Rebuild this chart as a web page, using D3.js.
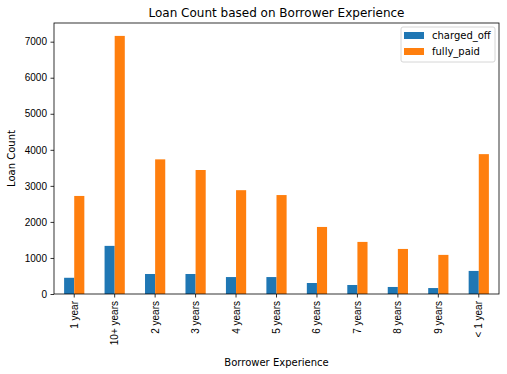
<!DOCTYPE html>
<html>
<head>
<meta charset="utf-8">
<script src="https://cdnjs.cloudflare.com/ajax/libs/d3/7.8.5/d3.min.js"></script>
<style>
  body { margin: 0; background: #fff; }
  svg { display: block; font-family: "DejaVu Sans", sans-serif; }
</style>
</head>
<body>
<div id="chart"></div>
<script>
// values
var categories = ['1 year', '10+ years', '2 years', '3 years', '4 years', '5 years',
                  '6 years', '7 years', '8 years', '9 years', '< 1 year'];
var chargedOff = [450, 1335, 555, 555, 470, 470, 305, 250, 195, 165, 640];
var fullyPaid = [2720, 7160, 3735, 3440, 2880, 2745, 1860, 1445, 1250, 1085, 3880];
var yTicks = [0, 1000, 2000, 3000, 4000, 5000, 6000, 7000];
var seriesNames = ['charged_off', 'fully_paid'];
var seriesColors = ['#1f77b4', '#ff7f0e'];

var width = 507, height = 374;
var margin = { top: 23, right: 8, bottom: 80, left: 54 };
var innerW = width - margin.left - margin.right;
var innerH = height - margin.top - margin.bottom;

var svg = d3.select('#chart').append('svg')
    .attr('width', width)
    .attr('height', height);

var g = svg.append('g')
    .attr('transform', 'translate(' + margin.left + ',' + margin.top + ')');

var yMax = d3.max(fullyPaid.concat(chargedOff)) * 1.05;

var x = d3.scaleBand()
    .domain(categories)
    .range([0, innerW])
    .paddingInner(0.5)
    .paddingOuter(0.25);

var inner = d3.scaleBand()
    .domain(seriesNames)
    .range([0, x.bandwidth()]);

var y = d3.scaleLinear()
    .domain([0, yMax])
    .range([innerH, 0]);

var rows = categories.map(function (c, i) {
    return { cat: c, values: [chargedOff[i], fullyPaid[i]] };
});

// bars
var groups = g.selectAll('g.cat')
    .data(rows)
    .enter().append('g')
    .attr('class', 'cat')
    .attr('transform', function (d) { return 'translate(' + x(d.cat) + ',0)'; });

groups.selectAll('rect')
    .data(function (d) {
        return d.values.map(function (v, k) { return { name: seriesNames[k], value: v, k: k }; });
    })
    .enter().append('rect')
    .attr('x', function (d) { return inner(d.name); })
    .attr('y', function (d) { return y(d.value); })
    .attr('width', inner.bandwidth())
    .attr('height', function (d) { return innerH - y(d.value); })
    .attr('fill', function (d) { return seriesColors[d.k]; });

// axes
var xAxis = g.append('g')
    .attr('transform', 'translate(0,' + innerH + ')')
    .call(d3.axisBottom(x).tickSizeOuter(0).tickSize(3.5).tickPadding(3.5));

xAxis.selectAll('text')
    .attr('font-size', 10)
    .attr('fill', '#000')
    .attr('text-anchor', 'end')
    .attr('transform', 'rotate(-90)')
    .attr('x', -7)
    .attr('y', 0)
    .attr('dy', '0.35em');

var yAxis = g.append('g')
    .call(d3.axisLeft(y).tickValues(yTicks).tickFormat(d3.format('d'))
        .tickSizeOuter(0).tickSize(3.5).tickPadding(3.5));

yAxis.selectAll('text').attr('font-size', 10).attr('fill', '#000');

g.selectAll('.domain').remove();
g.selectAll('.tick line').attr('stroke', '#000').attr('stroke-width', 0.8);

// frame
g.append('rect')
    .attr('x', 0).attr('y', 0)
    .attr('width', innerW).attr('height', innerH)
    .attr('fill', 'none')
    .attr('stroke', '#000')
    .attr('stroke-width', 0.8);

// title and axis labels
svg.append('text')
    .attr('x', margin.left + innerW / 2)
    .attr('y', 17)
    .attr('text-anchor', 'middle')
    .attr('font-size', 12)
    .text('Loan Count based on Borrower Experience');

svg.append('text')
    .attr('x', margin.left + innerW / 2)
    .attr('y', 366)
    .attr('text-anchor', 'middle')
    .attr('font-size', 10)
    .text('Borrower Experience');

svg.append('text')
    .attr('transform', 'translate(15,' + (margin.top + innerH / 2) + ') rotate(-90)')
    .attr('text-anchor', 'middle')
    .attr('font-size', 10)
    .text('Loan Count');

// legend
var legend = g.append('g')
    .attr('transform', 'translate(' + (innerW - 98) + ',4)');

legend.append('rect')
    .attr('width', 94).attr('height', 35)
    .attr('rx', 2)
    .attr('fill', '#fff')
    .attr('fill-opacity', 0.8)
    .attr('stroke', '#ccc')
    .attr('stroke-width', 0.8);

var items = legend.selectAll('g.item')
    .data(seriesNames)
    .enter().append('g')
    .attr('class', 'item')
    .attr('transform', function (d, i) { return 'translate(3,' + (5 + i * 16) + ')'; });

items.append('rect')
    .attr('width', 20).attr('height', 7)
    .attr('fill', function (d, i) { return seriesColors[i]; });

items.append('text')
    .attr('x', 28)
    .attr('y', 3.5)
    .attr('dy', '0.35em')
    .attr('font-size', 10)
    .text(function (d) { return d; });
</script>
</body>
</html>
